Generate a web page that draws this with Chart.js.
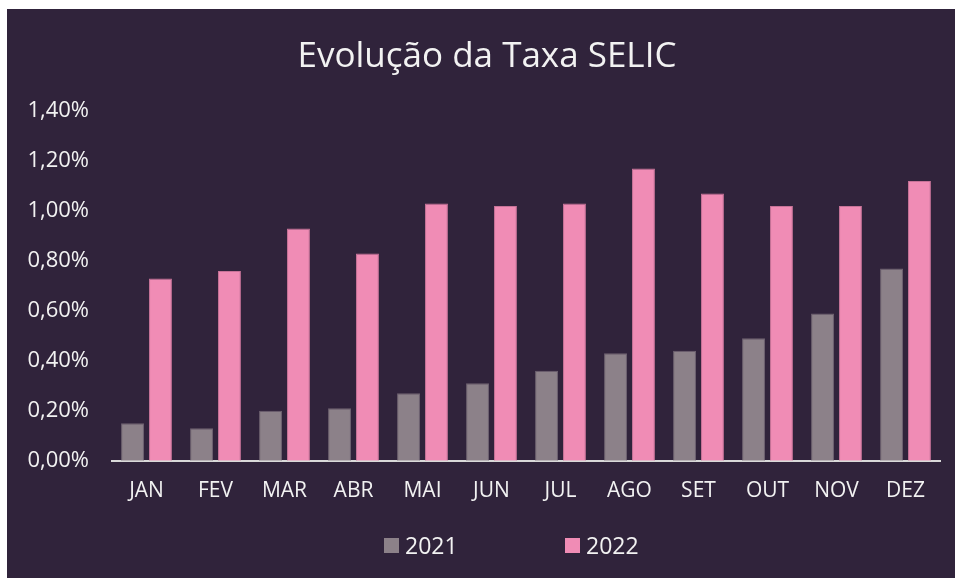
<!DOCTYPE html>
<html>
<head>
<meta charset="utf-8">
<script src="https://cdn.jsdelivr.net/npm/chart.js@4/dist/chart.umd.min.js"></script>
<style>
  html, body { margin: 0; padding: 0; background: #fff; }
  #wrap { position: absolute; left: 7px; top: 9px; width: 948px; height: 569px; background: #30233b; font-family: "Open Sans", "Noto Sans", sans-serif; color: #f2f2f2; }
  #title { position: absolute; left: 0; top: 23px; width: 960px; text-align: center; font-size: 35px; line-height: 44px; }
  #legend { position: absolute; left: 0; top: 522px; width: 948px; height: 28px; font-size: 23px; }
  #legend .item { position: absolute; top: 0; display: flex; align-items: center; height: 28px; }
  #legend .box { width: 15px; height: 15px; margin-right: 6px; }
</style>
</head>
<body>
<div id="wrap">
  <canvas id="chartSelic" width="948" height="569"></canvas>
  <div id="title">Evolução da Taxa SELIC</div>
  <div id="legend"></div>
</div>
<script>
const months = ['JAN', 'FEV', 'MAR', 'ABR', 'MAI', 'JUN', 'JUL', 'AGO', 'SET', 'OUT', 'NOV', 'DEZ'];
const selic2021 = [0.15, 0.13, 0.20, 0.21, 0.27, 0.31, 0.36, 0.43, 0.44, 0.49, 0.59, 0.77];
const selic2022 = [0.73, 0.76, 0.93, 0.83, 1.03, 1.02, 1.03, 1.17, 1.07, 1.02, 1.02, 1.12];

const txt = '#f2f2f2';
const fam = '"Open Sans", "Noto Sans", sans-serif';
const fmtPct = v => v.toFixed(2).replace('.', ',') + '%';

const chart = new Chart(document.getElementById('chartSelic'), {
  type: 'bar',
  data: {
    labels: months,
    datasets: [
      { label: '2021', data: selic2021, backgroundColor: '#8c8189', borderColor: '#6e6270', borderWidth: 1, categoryPercentage: 0.81, barPercentage: 0.82 },
      { label: '2022', data: selic2022, backgroundColor: '#f08cb5', borderColor: '#c77398', borderWidth: 1, categoryPercentage: 0.81, barPercentage: 0.82 }
    ]
  },
  options: {
    responsive: false, animation: false,
    layout: { padding: { left: 10, right: 15, top: 102, bottom: 56 } },
    plugins: {
      title: { display: false },
      legend: { display: false },
      tooltip: { enabled: false }
    },
    scales: {
      x: {
        grid: { display: false, drawTicks: false },
        border: { display: true, color: '#d9d9d9', width: 2 },
        ticks: { color: txt, font: { family: fam, size: 21 }, padding: 18 }
      },
      y: {
        min: 0, max: 1.4,
        grid: { display: false, drawTicks: false },
        border: { display: false },
        ticks: { stepSize: 0.2, color: txt, font: { family: fam, size: 22 }, padding: 23, callback: v => fmtPct(v) },
        afterFit: s => { s.width = 95; }
      }
    }
  }
});

// legend as html, built from the datasets
const legendX = [377, 558];
document.getElementById('legend').innerHTML = chart.data.datasets.map((ds, i) =>
  `<div class="item" style="left:${legendX[i]}px"><span class="box" style="background:${ds.backgroundColor}"></span>${ds.label}</div>`
).join('');
</script>
</body>
</html>
